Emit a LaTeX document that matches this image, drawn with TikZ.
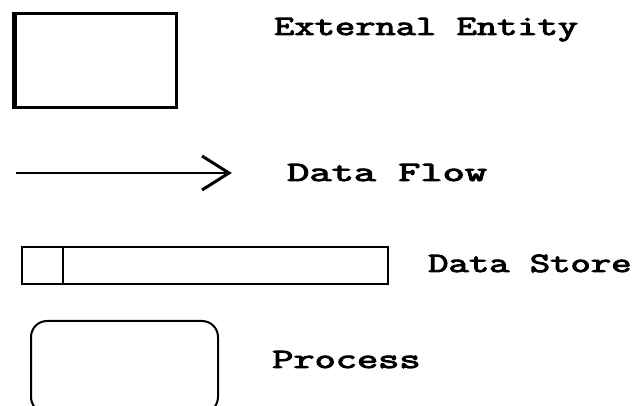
\documentclass[tikz,border=0pt]{standalone}
\usepackage{fontspec}
\newfontfamily\lblfont{Latin Modern Mono}[BoldFont={Latin Modern Mono}, BoldFeatures={FakeBold=3}]
\begin{document}
\begin{tikzpicture}[x=1pt,y=-1pt,
  legendtext/.style={anchor=base west, inner sep=0pt, font=\lblfont\bfseries\fontsize{28}{28}\selectfont},
  entitybox/.style={draw, line width=2.5pt, minimum width=161pt, minimum height=94pt, inner sep=0pt},
  storebox/.style={draw, line width=1.7pt, minimum width=366pt, minimum height=37pt, inner sep=0pt},
  procbox/.style={draw, line width=2pt, rounded corners=16pt, minimum width=187pt, minimum height=92pt, inner sep=0pt},
  flowline/.style={line width=1.6pt},
  flowhead/.style={line width=3pt}]
\useasboundingbox (0,0) rectangle (641,406);
\begin{scope}
\clip (0,0) rectangle (641,406);

% external entity: square with heavier left side
\node[entitybox] (ent) at (96,60.5) {};
\draw[line width=4.5pt] (ent.north west) -- (ent.south west);
\node[legendtext] (entlbl) at (274,35) {\scalebox{1.405}[1]{External Entity}};

% data flow: line with open chevron head
\coordinate (fs) at (16,173);
\coordinate (fe) at (229,173);
\draw[flowline] (fs) -- (fe);
\draw[flowhead, line join=miter] ([shift={(-27,-17)}]fe) -- (fe) -- ([shift={(-27,17)}]fe);
\node[legendtext] (flowlbl) at (287,181) {\scalebox{1.54}[1]{Data Flow}};

% data store: long box with a narrow id cell
\node[storebox] (store) at (205,265.5) {};
\draw[line width=1.7pt] (store.north west -| 63,0) -- (store.south west -| 63,0);
\node[legendtext] (storelbl) at (428,272) {\scalebox{1.41}[1]{Data Store}};

% process: rounded box running past the lower edge
\node[procbox] (proc) at (124.5,367) {};
\node[legendtext] (proclbl) at (272,368) {\scalebox{1.47}[1]{Process}};
\end{scope}
\end{tikzpicture}
\end{document}
